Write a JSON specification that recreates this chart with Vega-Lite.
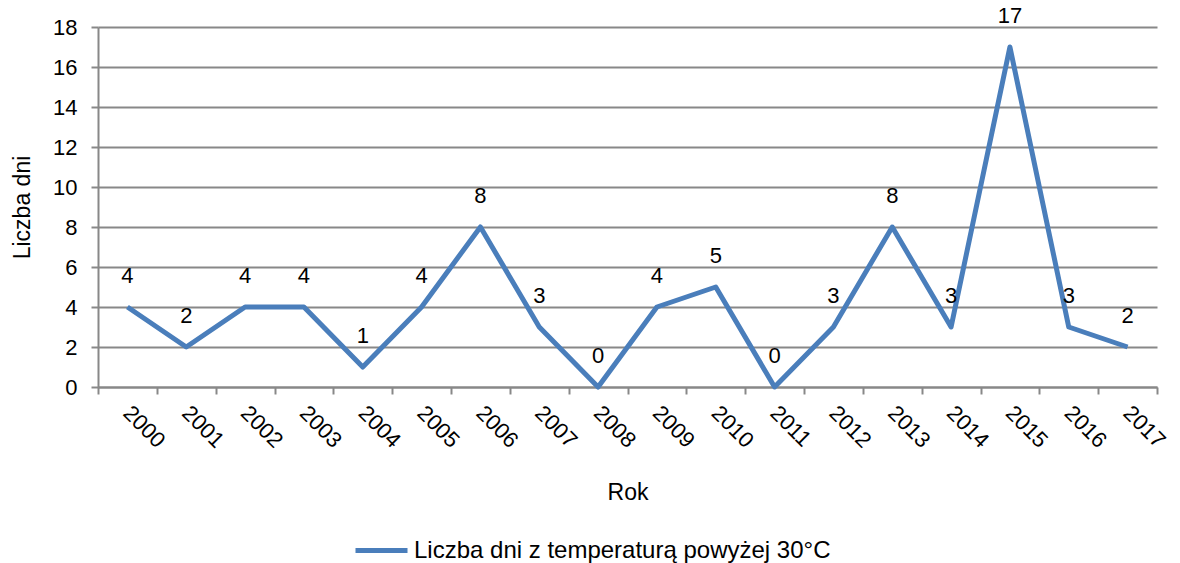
{
  "$schema": "https://vega.github.io/schema/vega-lite/v6.json",
  "width": 1059,
  "height": 360,
  "autosize": {"type": "none"},
  "padding": {"left": 98, "top": 27, "right": 23, "bottom": 176},
  "config": {
    "font": "Liberation Sans",
    "view": {"stroke": null},
    "axis": {
      "labelFont": "Liberation Sans",
      "titleFont": "Liberation Sans",
      "labelFontSize": 22,
      "titleFontSize": 23,
      "titleFontWeight": "normal",
      "labelColor": "#000000",
      "titleColor": "#000000",
      "domainColor": "#888888",
      "tickColor": "#888888",
      "gridColor": "#888888",
      "domainWidth": 2,
      "tickWidth": 2,
      "gridWidth": 2
    },
    "legend": {"labelFont": "Liberation Sans", "labelFontSize": 24, "labelColor": "#000000", "labelLimit": 700}
  },
  "data": {
    "values": [
      {"rok": "2000", "dni": 4, "seria": "Liczba dni z temperaturą powyżej 30°C"},
      {"rok": "2001", "dni": 2, "seria": "Liczba dni z temperaturą powyżej 30°C"},
      {"rok": "2002", "dni": 4, "seria": "Liczba dni z temperaturą powyżej 30°C"},
      {"rok": "2003", "dni": 4, "seria": "Liczba dni z temperaturą powyżej 30°C"},
      {"rok": "2004", "dni": 1, "seria": "Liczba dni z temperaturą powyżej 30°C"},
      {"rok": "2005", "dni": 4, "seria": "Liczba dni z temperaturą powyżej 30°C"},
      {"rok": "2006", "dni": 8, "seria": "Liczba dni z temperaturą powyżej 30°C"},
      {"rok": "2007", "dni": 3, "seria": "Liczba dni z temperaturą powyżej 30°C"},
      {"rok": "2008", "dni": 0, "seria": "Liczba dni z temperaturą powyżej 30°C"},
      {"rok": "2009", "dni": 4, "seria": "Liczba dni z temperaturą powyżej 30°C"},
      {"rok": "2010", "dni": 5, "seria": "Liczba dni z temperaturą powyżej 30°C"},
      {"rok": "2011", "dni": 0, "seria": "Liczba dni z temperaturą powyżej 30°C"},
      {"rok": "2012", "dni": 3, "seria": "Liczba dni z temperaturą powyżej 30°C"},
      {"rok": "2013", "dni": 8, "seria": "Liczba dni z temperaturą powyżej 30°C"},
      {"rok": "2014", "dni": 3, "seria": "Liczba dni z temperaturą powyżej 30°C"},
      {"rok": "2015", "dni": 17, "seria": "Liczba dni z temperaturą powyżej 30°C"},
      {"rok": "2016", "dni": 3, "seria": "Liczba dni z temperaturą powyżej 30°C"},
      {"rok": "2017", "dni": 2, "seria": "Liczba dni z temperaturą powyżej 30°C"}
    ]
  },
  "encoding": {
    "x": {
      "field": "rok",
      "type": "ordinal",
      "bandPosition": 0.5,
      "scale": {"type": "band", "paddingInner": 0, "paddingOuter": 0},
      "axis": {
        "title": "Rok",
        "tickBand": "extent",
        "tickSize": 7,
        "labelAngle": 45,
        "labelAlign": "left",
        "labelBaseline": "top",
        "labelPadding": 8,
        "labelOffset": 6,
        "titlePadding": 30,
        "grid": false
      }
    },
    "y": {
      "field": "dni",
      "type": "quantitative",
      "scale": {"domain": [0, 18], "nice": false},
      "axis": {
        "title": "Liczba dni",
        "values": [0, 2, 4, 6, 8, 10, 12, 14, 16, 18],
        "tickSize": 7,
        "labelPadding": 14,
        "titlePadding": 18,
        "grid": true
      }
    }
  },
  "layer": [
    {
      "mark": {"type": "line", "strokeWidth": 5, "strokeJoin": "round"},
      "encoding": {
        "color": {
          "field": "seria",
          "type": "nominal",
          "scale": {"range": ["#4a7ebb"]},
          "legend": {
            "title": null,
            "orient": "none",
            "legendX": 255,
            "legendY": 495,
            "symbolType": "stroke",
            "symbolSize": 2704,
            "symbolStrokeWidth": 5,
            "labelOffset": 4
          }
        }
      }
    },
    {
      "mark": {"type": "text", "dy": -31, "fontSize": 22, "font": "Liberation Sans", "color": "#000000"},
      "encoding": {"text": {"field": "dni", "type": "quantitative"}}
    }
  ]
}
